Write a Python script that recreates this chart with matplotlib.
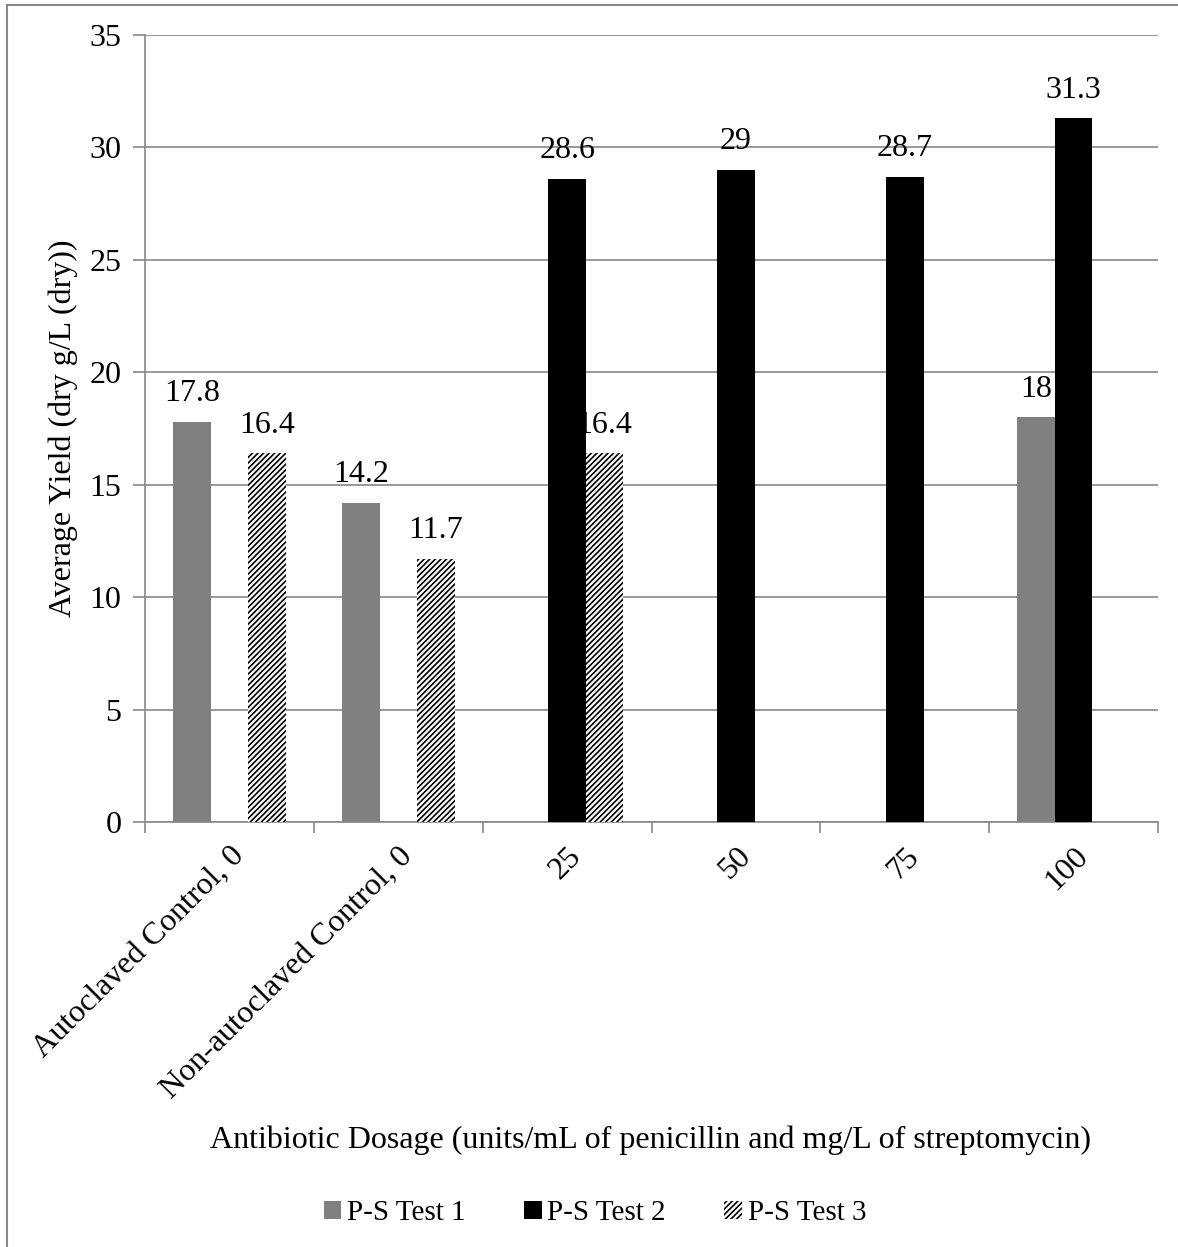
import numpy as np
import matplotlib
matplotlib.use("Agg")
import matplotlib.pyplot as plt
from matplotlib.lines import Line2D

categories = ["Autoclaved Control, 0", "Non-autoclaved Control, 0", "25", "50", "75", "100"]
test1 = [17.8, 14.2, None, None, None, 18]
test2 = [None, None, 28.6, 29, 28.7, 31.3]
test3 = [16.4, 11.7, 16.4, None, None, None]
series_names = ["P-S Test 1", "P-S Test 2", "P-S Test 3"]


def main():
    plt.rcParams["font.family"] = ["Liberation Serif", "DejaVu Serif"]
    plt.rcParams["hatch.linewidth"] = 1.2
    grid_col = "#888888"
    fs = 23

    fig = plt.figure(figsize=(11.78, 12.47), dpi=100)
    ax = fig.add_axes([0.1231, 0.3408, 0.860, 0.6311])

    x = np.arange(len(categories))
    w = 0.222
    offsets = [-w, 0, w]
    styles = [
        dict(color="#808080"),
        dict(color="black"),
        dict(facecolor="white", edgecolor="black", hatch="//////", linewidth=0),
    ]
    handles = []
    for vals, off, st, name in zip([test1, test2, test3], offsets, styles, series_names):
        xs = [xi + off for xi, v in zip(x, vals) if v is not None]
        vs = [v for v in vals if v is not None]
        bars = ax.bar(xs, vs, width=w, label=name, zorder=3, **st)
        handles.append(bars)
        for xi, v in zip(xs, vs):
            ax.text(xi, v + 0.6, "%g" % v, ha="center", va="bottom", fontsize=fs, zorder=4)

    ax.set_xlim(-0.5, len(categories) - 0.5)
    ax.set_ylim(0, 35)
    ax.set_yticks(range(0, 36, 5))
    ax.yaxis.grid(True, color=grid_col, linewidth=1.2, zorder=0)
    ax.set_axisbelow(True)
    for s in ["top", "right"]:
        ax.spines[s].set_visible(False)
    for s in ["left", "bottom"]:
        ax.spines[s].set_color(grid_col)
        ax.spines[s].set_linewidth(1.2)

    ax.set_xticks(np.arange(-0.5, len(categories), 1.0))
    ax.set_xticklabels([])
    ax.set_xticks(x, minor=True)
    ax.set_xticklabels(categories, minor=True, rotation=45, ha="right", va="top",
                       rotation_mode="anchor", fontsize=fs)
    ax.tick_params(axis="x", which="major", length=8, color=grid_col, width=1.2)
    ax.tick_params(axis="x", which="minor", length=0, pad=14)
    ax.tick_params(axis="y", length=9, color=grid_col, width=1.2, labelsize=fs, pad=8)

    ax.set_ylabel("Average Yield (dry g/L (dry))", fontsize=fs, labelpad=8)
    fig.text(0.552, 0.0855, "Antibiotic Dosage (units/mL of penicillin and mg/L of streptomycin)",
             ha="center", va="center", fontsize=fs)

    fig.legend(handles=handles, labels=series_names, loc="center", bbox_to_anchor=(0.505, 0.027),
               ncol=3, frameon=False, fontsize=21, handlelength=0.6, handleheight=0.6,
               handletextpad=0.2, columnspacing=2.0)

    # chart frame (left and top edges visible)
    fig.add_artist(Line2D([0.006, 0.006], [0, 0.996], transform=fig.transFigure,
                          color=grid_col, linewidth=1.5))
    fig.add_artist(Line2D([0.006, 1.0], [0.996, 0.996], transform=fig.transFigure,
                          color=grid_col, linewidth=1.5))

    fig.savefig("out.png", dpi=100)


if __name__ == "__main__":
    main()
